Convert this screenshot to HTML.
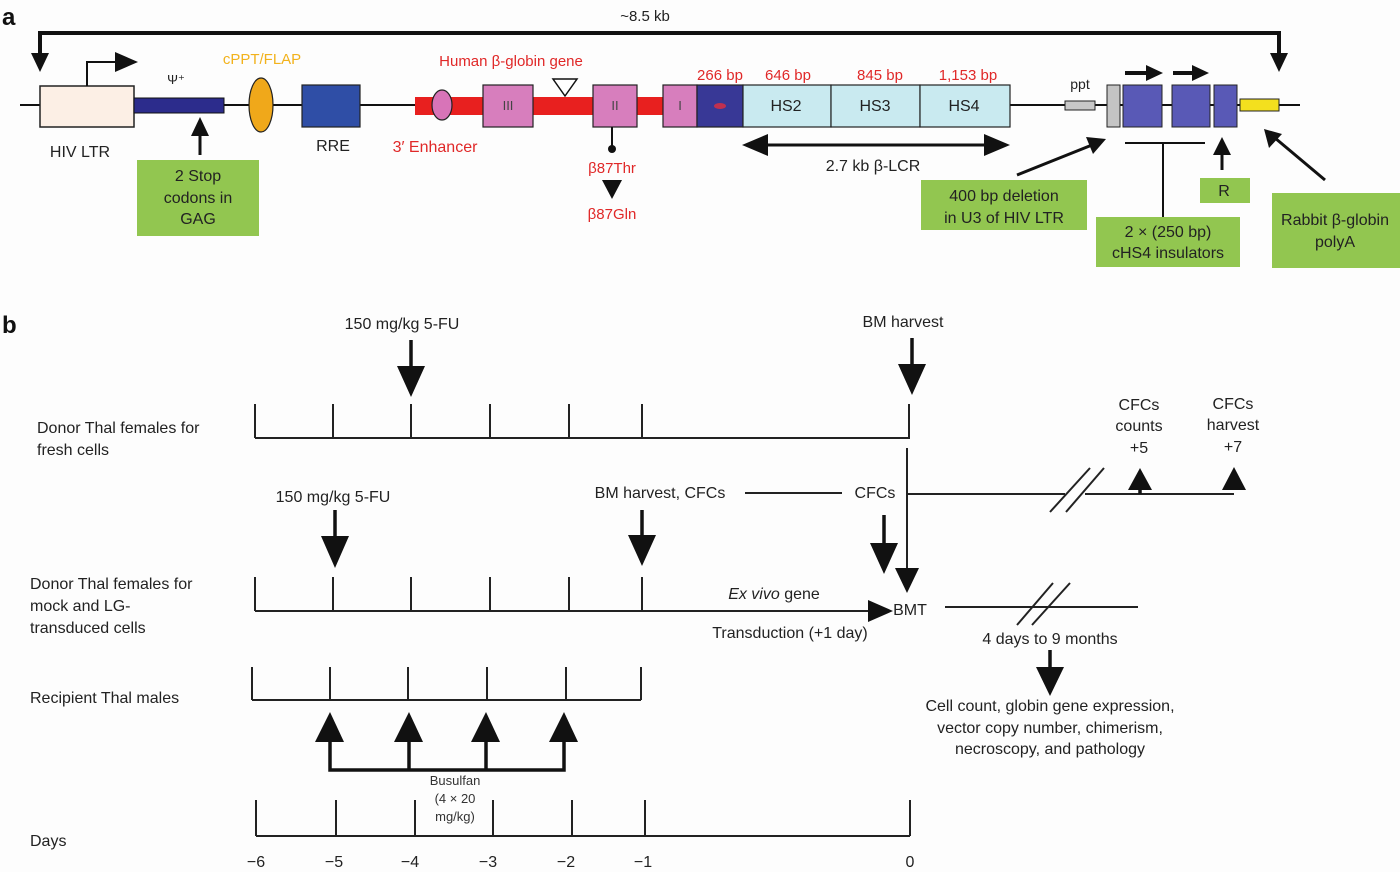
<!DOCTYPE html>
<html><head><meta charset="utf-8"><style>
html,body{margin:0;padding:0;background:#fff;}
svg{display:block;font-family:"Liberation Sans",sans-serif;}
</style></head><body>
<svg width="1400" height="872" viewBox="0 0 1400 872" xmlns="http://www.w3.org/2000/svg">
<rect width="1400" height="872" fill="#fdfdfd"/>
<g font-size="16" fill="#222">
<text x="2" y="25" font-size="24" font-weight="bold" fill="#111">a</text>
<text x="645" y="21" font-size="15" text-anchor="middle">~8.5 kb</text>
</g>
<!-- top bracket -->
<g stroke="#111" stroke-width="4" fill="none">
<polyline points="40,58 40,33 1279,33 1279,58"/>
</g>
<polygon points="31,53 49,53 40,72" fill="#111"/>
<polygon points="1270,53 1288,53 1279,72" fill="#111"/>
<!-- main line -->
<line x1="20" y1="105" x2="1300" y2="105" stroke="#111" stroke-width="2"/>
<!-- HIV LTR -->
<rect x="40" y="86" width="94" height="41" fill="#fcefe5" stroke="#222" stroke-width="1.5"/>
<polyline points="87,86 87,62 118,62" stroke="#111" stroke-width="2" fill="none"/>
<polygon points="115,52 138,62 115,72" fill="#111"/>
<text x="80" y="157" font-size="16" text-anchor="middle" fill="#222">HIV LTR</text>
<text x="176" y="84" font-size="13" text-anchor="middle" fill="#222">Ψ⁺</text>
<rect x="134" y="98" width="90" height="15" fill="#2c2c8c" stroke="#111" stroke-width="1"/>
<line x1="200" y1="155" x2="200" y2="134" stroke="#111" stroke-width="3"/>
<polygon points="191,136 209,136 200,117" fill="#111"/>
<rect x="137" y="160" width="122" height="76" fill="#92c650"/>
<g font-size="16" text-anchor="middle" fill="#222">
<text x="198" y="181">2 Stop</text><text x="198" y="203">codons in</text><text x="198" y="224">GAG</text>
</g>
<text x="262" y="64" font-size="15" text-anchor="middle" fill="#f2b21c">cPPT/FLAP</text>
<ellipse cx="261" cy="105" rx="12" ry="27" fill="#f0a81a" stroke="#222" stroke-width="1.2"/>
<rect x="302" y="85" width="58" height="42" fill="#2f4ea6" stroke="#222" stroke-width="1.2"/>
<text x="333" y="151" font-size="16" text-anchor="middle" fill="#222">RRE</text>
<!-- globin -->
<rect x="415" y="97" width="248" height="18" fill="#e8201f"/>
<ellipse cx="442" cy="105" rx="10" ry="15" fill="#d874b8" stroke="#222" stroke-width="1.2"/>
<text x="511" y="66" font-size="15" text-anchor="middle" fill="#e02828">Human β-globin gene</text>
<text x="435" y="152" font-size="16" text-anchor="middle" fill="#e02828">3′ Enhancer</text>
<rect x="483" y="85" width="50" height="42" fill="#d77ebd" stroke="#222" stroke-width="1.2"/>
<text x="508" y="110" font-size="13" text-anchor="middle" fill="#444">III</text>
<polygon points="553,79 577,79 565,96" fill="#fff" stroke="#111" stroke-width="1.5"/>
<rect x="593" y="85" width="44" height="42" fill="#d77ebd" stroke="#222" stroke-width="1.2"/>
<text x="615" y="110" font-size="13" text-anchor="middle" fill="#444">II</text>
<line x1="612" y1="127" x2="612" y2="148" stroke="#111" stroke-width="2"/>
<circle cx="612" cy="149" r="4" fill="#111"/>
<text x="612" y="173" font-size="15" text-anchor="middle" fill="#e02828">β87Thr</text>
<polygon points="602,180 622,180 612,199" fill="#111"/>
<text x="612" y="219" font-size="15" text-anchor="middle" fill="#e02828">β87Gln</text>
<rect x="663" y="85" width="34" height="42" fill="#d77ebd" stroke="#222" stroke-width="1.2"/>
<text x="680" y="110" font-size="13" text-anchor="middle" fill="#444">I</text>
<rect x="697" y="85" width="46" height="42" fill="#383896" stroke="#222" stroke-width="1.2"/>
<ellipse cx="720" cy="106" rx="6" ry="3" fill="#c03050"/>
<rect x="743" y="85" width="88" height="42" fill="#c9eaf0" stroke="#222" stroke-width="1.2"/>
<rect x="831" y="85" width="89" height="42" fill="#c9eaf0" stroke="#222" stroke-width="1.2"/>
<rect x="920" y="85" width="90" height="42" fill="#c9eaf0" stroke="#222" stroke-width="1.2"/>
<g font-size="16" text-anchor="middle" fill="#222">
<text x="786" y="111">HS2</text><text x="875" y="111">HS3</text><text x="964" y="111">HS4</text>
</g>
<g font-size="15" text-anchor="middle" fill="#e02828">
<text x="720" y="80">266 bp</text><text x="788" y="80">646 bp</text><text x="880" y="80">845 bp</text><text x="968" y="80">1,153 bp</text>
</g>
<line x1="760" y1="145" x2="992" y2="145" stroke="#111" stroke-width="3"/>
<polygon points="742,145 768,134 768,156" fill="#111"/>
<polygon points="1010,145 984,134 984,156" fill="#111"/>
<text x="873" y="171" font-size="16" text-anchor="middle" fill="#222">2.7 kb β-LCR</text>
<!-- 3' region -->
<rect x="1065" y="101" width="30" height="9" fill="#c8c8c8" stroke="#222" stroke-width="1"/>
<text x="1080" y="89" font-size="14" text-anchor="middle" fill="#222">ppt</text>
<rect x="1107" y="85" width="13" height="42" fill="#c4c4c4" stroke="#222" stroke-width="1"/>
<rect x="1123" y="85" width="39" height="42" fill="#5959b6" stroke="#222" stroke-width="1"/>
<rect x="1172" y="85" width="38" height="42" fill="#5959b6" stroke="#222" stroke-width="1"/>
<rect x="1214" y="85" width="23" height="42" fill="#5959b6" stroke="#222" stroke-width="1"/>
<rect x="1240" y="99" width="39" height="12" fill="#f3e01e" stroke="#222" stroke-width="1"/>
<line x1="1125" y1="73" x2="1150" y2="73" stroke="#111" stroke-width="4"/>
<polygon points="1146,65 1163,73 1146,81" fill="#111"/>
<line x1="1173" y1="73" x2="1196" y2="73" stroke="#111" stroke-width="4"/>
<polygon points="1192,65 1209,73 1192,81" fill="#111"/>
<line x1="1017" y1="175" x2="1092" y2="145" stroke="#111" stroke-width="3"/>
<polygon points="1106,139 1086,137 1093,154" fill="#111"/>
<rect x="921" y="180" width="166" height="50" fill="#92c650"/>
<g font-size="16" text-anchor="middle" fill="#222">
<text x="1004" y="201">400 bp deletion</text><text x="1004" y="223">in U3 of HIV LTR</text>
</g>
<line x1="1125" y1="143" x2="1205" y2="143" stroke="#111" stroke-width="2"/>
<line x1="1163" y1="143" x2="1163" y2="217" stroke="#111" stroke-width="2"/>
<rect x="1096" y="217" width="144" height="50" fill="#92c650"/>
<g font-size="16" text-anchor="middle" fill="#222">
<text x="1168" y="237">2 × (250 bp)</text><text x="1168" y="258">cHS4 insulators</text>
</g>
<line x1="1222" y1="170" x2="1222" y2="152" stroke="#111" stroke-width="3"/>
<polygon points="1213,155 1231,155 1222,137" fill="#111"/>
<rect x="1200" y="178" width="50" height="25" fill="#92c650"/>
<text x="1224" y="196" font-size="16" text-anchor="middle" fill="#222">R</text>
<line x1="1325" y1="180" x2="1275" y2="138" stroke="#111" stroke-width="3"/>
<polygon points="1264,129 1269,148 1282,134" fill="#111"/>
<rect x="1272" y="193" width="128" height="75" fill="#92c650"/>
<g font-size="16" text-anchor="middle" fill="#222">
<text x="1335" y="225">Rabbit β-globin</text><text x="1335" y="247">polyA</text>
</g>

<!-- Part b -->
<text x="2" y="333" font-size="24" font-weight="bold" fill="#111">b</text>
<g font-size="16" fill="#222">
<text x="402" y="329" text-anchor="middle">150 mg/kg 5-FU</text>
<text x="903" y="327" text-anchor="middle">BM harvest</text>
<text x="37" y="433">Donor Thal females for</text>
<text x="37" y="455">fresh cells</text>
<text x="1139" y="410" text-anchor="middle">CFCs</text>
<text x="1139" y="431" text-anchor="middle">counts</text>
<text x="1139" y="453" text-anchor="middle">+5</text>
<text x="1233" y="409" text-anchor="middle">CFCs</text>
<text x="1233" y="430" text-anchor="middle">harvest</text>
<text x="1233" y="452" text-anchor="middle">+7</text>
<text x="333" y="502" text-anchor="middle">150 mg/kg 5-FU</text>
<text x="660" y="498" text-anchor="middle">BM harvest, CFCs</text>
<text x="875" y="498" text-anchor="middle">CFCs</text>
<text x="30" y="589">Donor Thal females for</text>
<text x="30" y="611">mock and LG-</text>
<text x="30" y="633">transduced cells</text>
<text x="774" y="599" text-anchor="middle"><tspan font-style="italic">Ex vivo</tspan> gene</text>
<text x="790" y="638" text-anchor="middle">Transduction (+1 day)</text>
<text x="910" y="615" text-anchor="middle">BMT</text>
<text x="1050" y="644" text-anchor="middle">4 days to 9 months</text>
<text x="1050" y="711" text-anchor="middle">Cell count, globin gene expression,</text>
<text x="1050" y="733" text-anchor="middle">vector copy number, chimerism,</text>
<text x="1050" y="754" text-anchor="middle">necroscopy, and pathology</text>
<text x="30" y="703">Recipient Thal males</text>
<text x="30" y="846">Days</text>
</g>
<g font-size="13" fill="#333" text-anchor="middle">
<text x="455" y="785">Busulfan</text><text x="455" y="803">(4 × 20</text><text x="455" y="821">mg/kg)</text>
</g>
<g font-size="16" fill="#222" text-anchor="middle">
<text x="256" y="867">−6</text><text x="334" y="867">−5</text><text x="410" y="867">−4</text><text x="488" y="867">−3</text><text x="566" y="867">−2</text><text x="643" y="867">−1</text><text x="910" y="867">0</text>
</g>
<g stroke="#222" stroke-width="2" fill="none">
<!-- row1 -->
<line x1="255" y1="438" x2="910" y2="438"/>
<path d="M255 404V438M333 404V438M411 404V438M490 404V438M569 404V438M642 404V438M909 404V438"/>
<!-- row2 -->
<line x1="255" y1="611" x2="872" y2="611"/>
<path d="M255 577V611M333 577V611M411 577V611M490 577V611M569 577V611M642 577V611"/>
<line x1="907" y1="448" x2="907" y2="572"/>
<line x1="745" y1="493" x2="842" y2="493"/>
<line x1="907" y1="494" x2="1065" y2="494"/>
<line x1="1085" y1="494" x2="1234" y2="494"/>
<line x1="1050" y1="512" x2="1090" y2="468"/>
<line x1="1066" y1="512" x2="1104" y2="468"/>
<line x1="945" y1="607" x2="1138" y2="607"/>
<line x1="1017" y1="625" x2="1053" y2="583"/>
<line x1="1032" y1="625" x2="1070" y2="583"/>
<!-- row3 -->
<line x1="252" y1="700" x2="641" y2="700"/>
<path d="M252 667V700M330 667V700M408 667V700M487 667V700M566 667V700M641 667V700"/>
<!-- days -->
<line x1="256" y1="836" x2="910" y2="836"/>
<path d="M256 800V836M336 800V836M415 800V836M493 800V836M572 800V836M645 800V836M910 800V836"/>
</g>
<g stroke="#111" stroke-width="3.5" fill="none">
<line x1="411" y1="340" x2="411" y2="370"/>
<line x1="912" y1="338" x2="912" y2="368"/>
<line x1="335" y1="510" x2="335" y2="540"/>
<line x1="642" y1="510" x2="642" y2="538"/>
<line x1="884" y1="515" x2="884" y2="545"/>
<path d="M330 740V770H564V740M409 740V770M486 740V770"/>
<line x1="1050" y1="650" x2="1050" y2="670"/>
<line x1="1140" y1="490" x2="1140" y2="494"/>
</g>
<g fill="#111">
<polygon points="397,366 425,366 411,397"/>
<polygon points="898,364 926,364 912,395"/>
<polygon points="321,536 349,536 335,568"/>
<polygon points="628,535 656,535 642,566"/>
<polygon points="870,543 898,543 884,574"/>
<polygon points="895,568 919,568 907,593"/>
<polygon points="868,600 868,622 893,611"/>
<polygon points="1036,667 1064,667 1050,696"/>
<polygon points="1128,490 1152,490 1140,468"/>
<polygon points="1222,490 1246,490 1234,467"/>
<polygon points="315,742 344,742 330,712"/>
<polygon points="394,742 423,742 409,712"/>
<polygon points="471,742 500,742 486,712"/>
<polygon points="549,742 578,742 564,712"/>
</g>
</svg>
</body></html>
